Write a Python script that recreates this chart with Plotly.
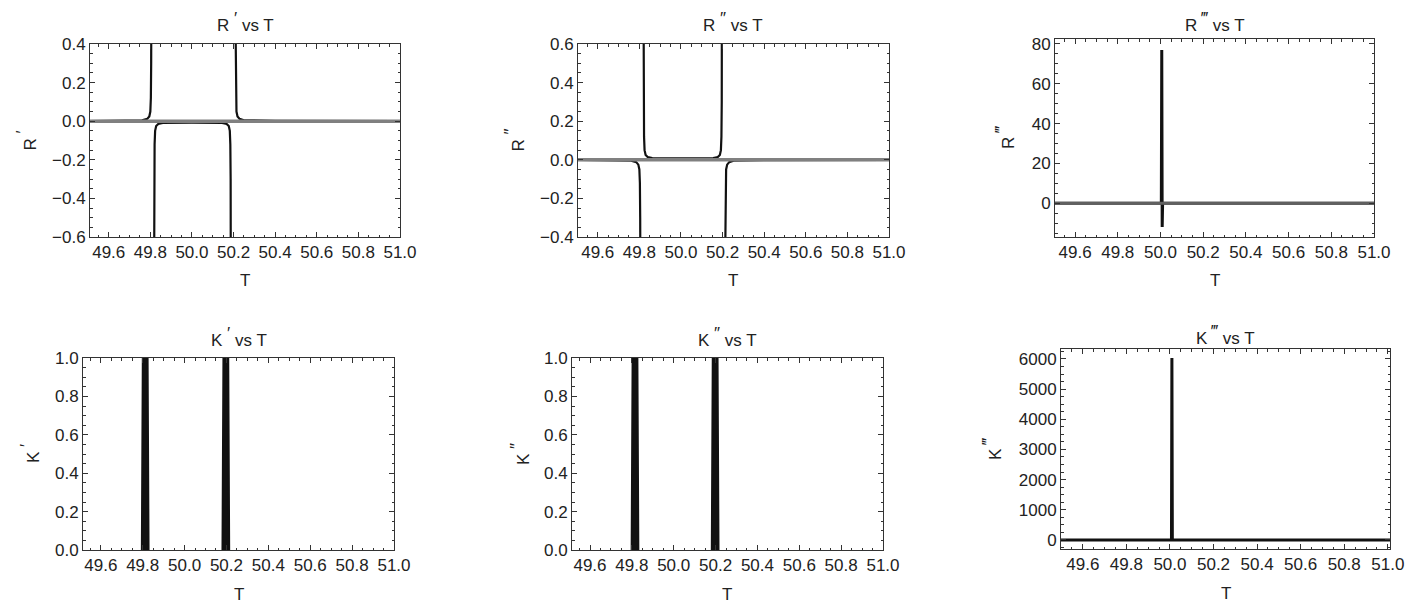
import plotly.graph_objects as go

# ---- data ----
# R' vs T : gray curve and black curve (None = break at a pole)
r1_gray_T = [49.51, 51.0]
r1_gray = [0.0, 0.0]
r1_T = [49.51, 49.70, 49.76, 49.785, 49.795, 49.800, 49.8025, 49.804, 49.8045, None,
        49.8185, 49.819, 49.8205, 49.823, 49.828, 49.838, 49.86, 50.0, 50.145, 50.167, 50.177, 50.182, 50.1845, 50.186, 50.1865, None,
        50.2095, 50.210, 50.2115, 50.214, 50.219, 50.229, 50.25, 50.4, 51.0]
r1 = [0.001, 0.002, 0.005, 0.012, 0.025, 0.05, 0.12, 0.3, 0.5, None,
      -0.7, -0.3, -0.12, -0.05, -0.025, -0.014, -0.009, -0.008, -0.009, -0.014, -0.025, -0.05, -0.12, -0.3, -0.7, None,
      0.5, 0.3, 0.12, 0.05, 0.025, 0.012, 0.005, 0.002, 0.001]

# R'' vs T
r2_gray_T = [49.505, 51.0]
r2_gray = [0.0, 0.0]
r2_T = [49.505, 49.70, 49.76, 49.785, 49.795, 49.800, 49.8025, 49.804, 49.8045, None,
        49.8205, 49.821, 49.8225, 49.825, 49.830, 49.840, 49.862, 50.0, 50.155, 50.177, 50.187, 50.192, 50.1945, 50.196, 50.1965, None,
        50.2125, 50.213, 50.2145, 50.217, 50.222, 50.232, 50.253, 50.4, 51.0]
r2 = [-0.001, -0.002, -0.005, -0.012, -0.025, -0.05, -0.12, -0.3, -0.5, None,
      0.7, 0.3, 0.12, 0.05, 0.025, 0.014, 0.009, 0.008, 0.009, 0.014, 0.025, 0.05, 0.12, 0.3, 0.7, None,
      -0.5, -0.3, -0.12, -0.05, -0.025, -0.012, -0.005, -0.002, -0.001]

# R''' vs T
r3_gray_T = [49.506, 51.0]
r3_gray = [0.0, 0.0]
r3_T = [49.506, 50.004, 50.006, 50.008, 50.010, 51.0]
r3 = [0.0, 0.0, 77.0, -12.0, 0.0, 0.0]

# K' vs T (peaks run off the top of the frame)
k1_T = [49.796, 49.812, 49.828, None, 50.181, 50.197, 50.213]
k1 = [0.0, 3.5, 0.0, None, 0.0, 3.5, 0.0]

# K'' vs T
k2_T = [49.799, 49.815, 49.831, None, 50.182, 50.198, 50.214]
k2 = [0.0, 3.5, 0.0, None, 0.0, 3.5, 0.0]

# K''' vs T
k3_T = [49.5, 50.007, 50.009, 50.011, 51.01]
k3 = [0.0, 0.0, 6030.0, 0.0, 0.0]

primes = ["′", "″", "‴"]
sup = lambda p: "<sup><span style='font-size:17px'>" + p + "</span></sup>"
titles = ["R " + sup(p) + " vs T" for p in primes] + ["K " + sup(p) + " vs T" for p in primes]
ylabels = ["R " + sup(p) for p in primes] + ["K " + sup(p) for p in primes]

W, H = 1417, 612
FONT = "Liberation Sans, Arial, sans-serif"
TXT = "#222222"
BLACK = "#111111"
GRAY = "#808080"

# panel boxes in pixels: left, right, top, bottom
boxes = [(90, 400, 44, 237), (578, 889, 44, 237), (1055, 1374, 39, 237),
         (83, 394, 358, 550), (572, 883, 358, 550), (1061, 1390, 349, 549)]
xranges = [[49.51, 51.0], [49.505, 51.0], [49.506, 51.0],
           [49.515, 51.0], [49.514, 51.0], [49.5, 51.01]]
yranges = [[-0.6, 0.4], [-0.4, 0.6], [-17, 82.5],
           [0, 1], [0, 1], [-300, 6330]]
ydticks = [0.2, 0.2, 20, 0.2, 0.2, 1000]
yminor = [0.05, 0.05, 5, 0.05, 0.05, 250]
yfmt = [".1f", ".1f", "d", ".1f", ".1f", "d"]
ylab_x = [27, 515, 1005, 30, 520, 992]
title_y = [22, 22, 22, 337, 337, 335]

fig = go.Figure()

def add(i, x, y, color, width, fill=None):
    n = "" if i == 0 else str(i + 1)
    fig.add_trace(go.Scatter(x=x, y=y, mode="lines", xaxis="x" + n, yaxis="y" + n,
                             line=dict(color=color, width=width),
                             fill=fill, fillcolor=BLACK if fill else None,
                             showlegend=False, hoverinfo="skip"))

add(0, r1_T, r1, BLACK, 2.2)
add(0, r1_gray_T, r1_gray, GRAY, 3.5)
add(1, r2_T, r2, BLACK, 2.2)
add(1, r2_gray_T, r2_gray, GRAY, 3.5)
add(2, r3_T, r3, BLACK, 3)
add(2, r3_gray_T, r3_gray, "rgba(110,110,110,0.85)", 3)
add(3, k1_T, k1, BLACK, 2, fill="toself")
add(4, k2_T, k2, BLACK, 2, fill="toself")
add(5, k3_T, k3, BLACK, 3)

layout = dict(template="none", width=W, height=H, margin=dict(l=0, r=0, t=0, b=0, autoexpand=False),
              plot_bgcolor="white", paper_bgcolor="white",
              font=dict(family=FONT, color=TXT, size=16))
ann = []
for i, (l, r, t, b) in enumerate(boxes):
    n = "" if i == 0 else str(i + 1)
    axstyle = dict(showline=True, linecolor="#333333", linewidth=1, mirror="allticks",
                   ticks="inside", ticklen=5, tickwidth=1, tickcolor="#333333",
                   showgrid=False, zeroline=False, automargin=False,
                   tickfont=dict(family=FONT, size=17, color=TXT))
    layout["xaxis" + n] = dict(axstyle, domain=[l / W, r / W], range=xranges[i],
                               anchor="y" + n, tick0=49.6, dtick=0.2, tickformat=".1f",
                               minor=dict(dtick=0.05, tick0=49.6, ticks="inside", ticklen=2.5,
                                          tickcolor="#333333", showgrid=False))
    layout["yaxis" + n] = dict(axstyle, domain=[1 - b / H, 1 - t / H], range=yranges[i],
                               anchor="x" + n, tick0=0, dtick=ydticks[i], tickformat=yfmt[i],
                               minor=dict(dtick=yminor[i], tick0=0, ticks="inside", ticklen=2.5,
                                          tickcolor="#333333", showgrid=False))
    cx = (l + r) / 2
    ann.append(dict(text=titles[i], x=cx / W, y=1 - title_y[i] / H, xref="paper", yref="paper",
                    xanchor="center", yanchor="middle",
                    showarrow=False, font=dict(size=17, family=FONT, color=TXT)))
    ann.append(dict(text="T", x=cx / W, y=1 - (b + 44) / H, xref="paper", yref="paper",
                    xanchor="center", yanchor="middle",
                    showarrow=False, font=dict(size=17, family=FONT, color=TXT)))
    ann.append(dict(text=ylabels[i], x=ylab_x[i] / W, y=1 - ((t + b) / 2) / H,
                    xref="paper", yref="paper", textangle=-90, showarrow=False,
                    xanchor="center", yanchor="middle",
                    font=dict(size=17, family=FONT, color=TXT)))
layout["annotations"] = ann
fig.update_layout(layout)

fig.write_html("out.html", config={"displayModeBar": False},
               post_script="document.body.style.margin='0';")
